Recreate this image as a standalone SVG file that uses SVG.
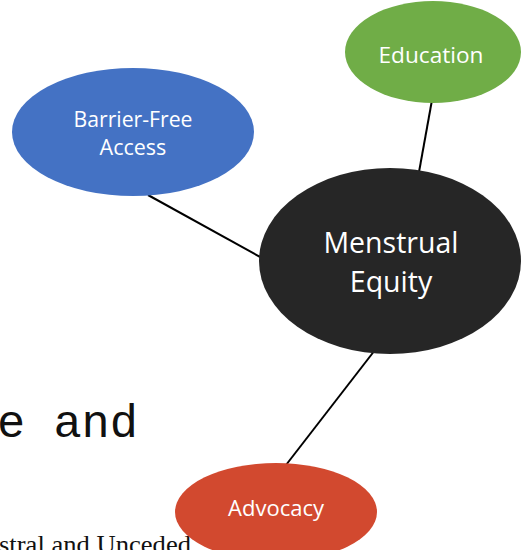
<svg xmlns="http://www.w3.org/2000/svg" width="522" height="550" viewBox="0 0 522 550">
<style>
.lbl{font-family:"Open Sans","Noto Sans",sans-serif;fill:#ffffff;text-anchor:middle}
.conn line{stroke:#000;stroke-width:2}
</style>
<rect width="522" height="550" fill="#ffffff"/>
<text x="-3" y="437" font-family="Liberation Mono, monospace" font-size="47" fill="#111">e and</text>
<text x="-1" y="553" font-family="Liberation Serif, serif" font-size="25" fill="#111" textLength="192" lengthAdjust="spacingAndGlyphs">stral and Unceded</text>
<g id="connectors" class="conn">
<line x1="148" y1="195" x2="262" y2="258"/>
<line x1="432" y1="100" x2="419" y2="172"/>
<line x1="375" y1="350" x2="286" y2="465"/>
</g>
<g id="barrier-free-access">
<ellipse cx="133" cy="132" rx="121" ry="64" fill="#4472C4"/>
<text class="lbl" x="133" y="127" font-size="21.5" textLength="119" lengthAdjust="spacingAndGlyphs">Barrier-Free</text>
<text class="lbl" x="133" y="155" font-size="21.5">Access</text>
</g>
<g id="education">
<ellipse cx="433" cy="52" rx="88" ry="51" fill="#70AD47"/>
<text class="lbl" x="431" y="63" font-size="22" textLength="105" lengthAdjust="spacingAndGlyphs">Education</text>
</g>
<g id="menstrual-equity">
<ellipse cx="390" cy="261" rx="131" ry="93" fill="#262626"/>
<text class="lbl" x="391" y="253" font-size="28.5">Menstrual</text>
<text class="lbl" x="391" y="292" font-size="28.5">Equity</text>
</g>
<g id="advocacy">
<ellipse cx="276" cy="512" rx="101" ry="49" fill="#D2492F"/>
<text class="lbl" x="276" y="516" font-size="22" textLength="96" lengthAdjust="spacingAndGlyphs">Advocacy</text>
</g>
</svg>
